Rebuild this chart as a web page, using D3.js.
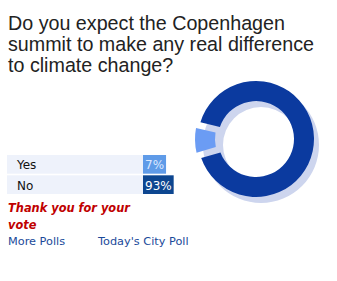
<!DOCTYPE html>
<html>
<head>
<meta charset="utf-8">
<script src="https://d3js.org/d3.v7.min.js"></script>
<style>
  body { margin: 0; background: #fff; }
</style>
</head>
<body>
<div id="poll"></div>
<script>
// Poll data
const titleLines = ["Do you expect the Copenhagen", "summit to make any real difference", "to climate change?"];
const options = ["Yes", "No"];
const percents = [7, 93];
const thanksLines = ["Thank you for your", "vote"];
const links = ["More Polls", "Today's City Poll"];

const width = 337, height = 281;

const svg = d3.select("#poll")
    .append("svg")
    .attr("width", width)
    .attr("height", height);

// Title
svg.append("g")
    .selectAll("text")
    .data(titleLines)
    .enter()
    .append("text")
    .attr("x", 8)
    .attr("y", (d, i) => 30 + i * 21)
    .style("font-family", "'Liberation Sans', Arial, sans-serif")
    .style("font-size", "19.7px")
    .attr("fill", "#222")
    .text(d => d);

// Table of results
const rowY = d3.scaleBand()
    .domain(options)
    .range([155, 194])
    .paddingInner(0.08);

const fills = d3.scaleOrdinal()
    .domain(options)
    .range(["#5f9be8", "#0d4690"]);

const rows = svg.append("g")
    .selectAll("g")
    .data(options)
    .enter()
    .append("g")
    .attr("transform", d => `translate(0,${rowY(d)})`);

rows.append("rect")
    .attr("x", 7)
    .attr("width", 136)
    .attr("height", rowY.bandwidth())
    .attr("fill", "#eef2fb");

rows.append("text")
    .attr("x", 17)
    .attr("y", rowY.bandwidth() / 2 + 5)
    .style("font-family", "'DejaVu Sans', Verdana, sans-serif")
    .style("font-size", "12px")
    .attr("fill", "#111")
    .text(d => d);

rows.each(function(d, i) {
    const g = d3.select(this);
    const label = percents[i] + "%";
    const box = g.append("rect")
        .attr("x", 143)
        .attr("height", rowY.bandwidth())
        .attr("fill", fills(d));
    const t = g.append("text")
        .attr("x", 145)
        .attr("y", rowY.bandwidth() / 2 + 5)
        .style("font-family", "'DejaVu Sans', Verdana, sans-serif")
        .style("font-size", "12px")
        .attr("fill", i === 0 ? "#dbe8ff" : "#fff")
        .text(label);
    box.attr("width", t.node().getComputedTextLength() + 4);
});

// Thank you note
svg.append("g")
    .selectAll("text")
    .data(thanksLines)
    .enter()
    .append("text")
    .attr("x", 8)
    .attr("y", (d, i) => 212 + i * 17)
    .style("font-family", "'DejaVu Sans', Verdana, sans-serif")
    .style("font-size", "11.4px")
    .style("font-weight", "bold")
    .style("font-style", "italic")
    .attr("fill", "#c00000")
    .text(d => d);

// Links
svg.append("g")
    .selectAll("text")
    .data(links)
    .enter()
    .append("text")
    .attr("x", (d, i) => i === 0 ? 8 : 98)
    .attr("y", 245)
    .style("font-family", "'DejaVu Sans', Verdana, sans-serif")
    .style("font-size", "11.3px")
    .attr("fill", "#1a4a9a")
    .text(d => d);

// Donut chart
const cx = 256, cy = 139;
const outerR = 58, innerR = 38;

const donut = svg.append("g")
    .attr("transform", `translate(${cx},${cy})`);

// soft shadow ring behind
donut.append("path")
    .attr("transform", "translate(5,6)")
    .attr("fill", "#cdd5ee")
    .attr("d", d3.arc().innerRadius(innerR).outerRadius(outerR)({ startAngle: 0, endAngle: 2 * Math.PI }));

// Yes slice sits just below 9 o'clock
const yesSpan = percents[0] / 100 * 2 * Math.PI;
const yesMid = -Math.PI / 2 - 0.06;
const pie = d3.pie()
    .sort(null)
    .value(d => d)
    .startAngle(yesMid - yesSpan / 2)
    .endAngle(yesMid - yesSpan / 2 + 2 * Math.PI)
    .padAngle(0.09);

const sliceColor = d3.scaleOrdinal()
    .domain(options)
    .range(["#6b9cf4", "#0b3a9f"]);

const arc = d3.arc()
    .innerRadius(d => d.index === 0 ? 41 : innerR)
    .outerRadius(d => d.index === 0 ? 61 : outerR);

donut.selectAll("path.slice")
    .data(pie(percents))
    .enter()
    .append("path")
    .attr("class", "slice")
    .attr("fill", (d, i) => sliceColor(options[i]))
    .attr("d", arc);
</script>
</body>
</html>
